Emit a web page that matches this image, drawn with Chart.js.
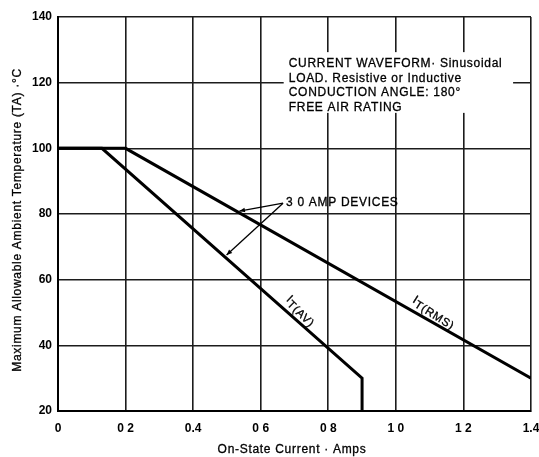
<!DOCTYPE html>
<html>
<head>
<meta charset="utf-8">
<script src="https://cdn.jsdelivr.net/npm/chart.js@4/dist/chart.umd.min.js"></script>
<style>
  html, body { margin: 0; padding: 0; background: #fff; }
  #wrap { width: 539px; height: 457px; }
</style>
</head>
<body>
<div id="wrap"><canvas id="chart" width="539" height="457"></canvas></div>
<script>
// Axis ticks
const xTickValues = [0, 0.2, 0.4, 0.6, 0.8, 1.0, 1.2, 1.4];
const xTickLabels = ['0', '0 2', '0.4', '0 6', '0 8', '1 0', '1 2', '1.4'];
const yTickValues = [20, 40, 60, 80, 100, 120, 140];

// Derating curve for average on-state current
const currentAV = [0, 0.13, 0.9, 0.9];
const tempAV = [100, 100, 30, 20];

// Derating curve for RMS on-state current
const currentRMS = [0, 0.2, 1.4];
const tempRMS = [100, 100, 30];

// Text
const xTitle = 'On-State Current · Amps';
const yTitle = 'Maximum Allowable Ambient Temperature (TA) ·°C';
const noteLines = [
  'CURRENT WAVEFORM· Sinusoidal',
  'LOAD. Resistive or Inductive',
  'CONDUCTION ANGLE: 180°',
  'FREE AIR RATING'
];
const deviceLabel = '3 0 AMP DEVICES';

const FONT = '"Liberation Sans", Arial, Helvetica, sans-serif';
const SPACING = '0.7px';

const toPoints = (xs, ys) => xs.map((x, i) => ({ x, y: ys[i] }));

// Placement of the annotations, in data units
const layoutNotes = {
  box: { x0: 0.668, x1: 1.347, yTop: 129.3, yBottom: 110.8 },
  noteText: { x: 0.683, y: 125.8, lineHeight: 14.6 },
  device: { x: 0.672, y: 83.3, targets: [[0.537, 80.9], [0.499, 67.5]] },
  labelAV: { x: 0.715, y: 50.1, angle: 44 },
  labelRMS: { x: 1.11, y: 49.6, angle: 32 }
};

// Slightly heavier text, like a printed sheet
function heavyText(ctx, text, x, y) {
  ctx.fillText(text, x, y);
  ctx.lineWidth = 0.3;
  ctx.strokeText(text, x, y);
}

function arrow(ctx, x0, y0, x1, y1) {
  ctx.lineWidth = 1.3;
  ctx.beginPath();
  ctx.moveTo(x0, y0);
  ctx.lineTo(x1, y1);
  ctx.stroke();
  const a = Math.atan2(y1 - y0, x1 - x0);
  const len = 6, w = 0.4;
  ctx.beginPath();
  ctx.moveTo(x1, y1);
  ctx.lineTo(x1 - len * Math.cos(a - w), y1 - len * Math.sin(a - w));
  ctx.lineTo(x1 - len * Math.cos(a + w), y1 - len * Math.sin(a + w));
  ctx.closePath();
  ctx.fill();
}

function subscriptLabel(ctx, x, y, angle, main, sub) {
  ctx.save();
  ctx.translate(x, y);
  ctx.rotate(angle * Math.PI / 180);
  ctx.letterSpacing = SPACING;
  ctx.font = '12px ' + FONT;
  const wMain = ctx.measureText(main).width;
  ctx.font = '11.5px ' + FONT;
  const wSub = ctx.measureText(sub).width;
  const total = wMain + wSub;
  ctx.textBaseline = 'alphabetic';
  ctx.textAlign = 'left';
  ctx.font = '12px ' + FONT;
  heavyText(ctx, main, -total / 2, 1);
  ctx.font = '11.5px ' + FONT;
  heavyText(ctx, sub, -total / 2 + wMain, 4);
  ctx.restore();
}

const annotations = {
  id: 'annotations',
  afterDatasetsDraw(chart) {
    const { ctx, scales: { x, y } } = chart;
    const px = v => x.getPixelForValue(v);
    const py = v => y.getPixelForValue(v);
    ctx.save();
    ctx.fillStyle = '#000';
    ctx.strokeStyle = '#000';

    // Note box over the grid
    const b = layoutNotes.box;
    ctx.fillStyle = '#fff';
    ctx.fillRect(px(b.x0), py(b.yTop), px(b.x1) - px(b.x0), py(b.yBottom) - py(b.yTop));
    ctx.fillStyle = '#000';
    ctx.font = '12px ' + FONT;
    ctx.letterSpacing = SPACING;
    ctx.textAlign = 'left';
    ctx.textBaseline = 'middle';
    const n = layoutNotes.noteText;
    noteLines.forEach((line, i) => {
      heavyText(ctx, line, px(n.x), py(n.y) + i * n.lineHeight);
    });

    // Device label with leaders
    const d = layoutNotes.device;
    d.targets.forEach(([tx, ty]) => arrow(ctx, px(d.x) - 2, py(d.y), px(tx), py(ty)));
    ctx.textBaseline = 'middle';
    heavyText(ctx, deviceLabel, px(d.x) + 1, py(d.y));

    // Curve labels
    const la = layoutNotes.labelAV;
    subscriptLabel(ctx, px(la.x), py(la.y), la.angle, 'I', 'T(AV)');
    const lr = layoutNotes.labelRMS;
    subscriptLabel(ctx, px(lr.x), py(lr.y), lr.angle, 'I', 'T(RMS)');

    // Axis titles
    ctx.font = '12px ' + FONT;
    ctx.letterSpacing = SPACING;
    ctx.textAlign = 'center';
    ctx.textBaseline = 'middle';
    heavyText(ctx, xTitle, 292, 450);
    ctx.save();
    ctx.translate(18, 220);
    ctx.rotate(-Math.PI / 2);
    heavyText(ctx, yTitle, 0, 0);
    ctx.restore();

    ctx.restore();
  }
};

const gridStyle = {
  color: '#1c1c1c',
  lineWidth: 1.6,
  drawTicks: false
};

new Chart(document.getElementById('chart'), {
  type: 'scatter',
  data: {
    datasets: [
      {
        label: 'IT(AV)',
        data: toPoints(currentAV, tempAV),
        showLine: true,
        borderColor: '#000',
        borderWidth: 3,
        pointRadius: 0,
        tension: 0,
        borderJoinStyle: 'miter'
      },
      {
        label: 'IT(RMS)',
        data: toPoints(currentRMS, tempRMS),
        showLine: true,
        borderColor: '#000',
        borderWidth: 3,
        pointRadius: 0,
        tension: 0,
        borderJoinStyle: 'miter'
      }
    ]
  },
  options: {
    responsive: false,
    animation: false,
    devicePixelRatio: 1,
    layout: { padding: { top: 17, right: 8, left: 0, bottom: 0 } },
    plugins: {
      legend: { display: false },
      tooltip: { enabled: false }
    },
    scales: {
      x: {
        type: 'linear',
        min: 0,
        max: 1.4,
        afterBuildTicks: s => { s.ticks = xTickValues.map(v => ({ value: v })); },
        afterFit: s => { s.height = 46; s.paddingLeft = 0; s.paddingRight = 0; },
        grid: gridStyle,
        border: { display: true, color: '#000', width: 2 },
        ticks: {
          color: '#000',
          padding: 10,
          maxRotation: 0,
          font: { family: FONT, size: 12, weight: 'bold' },
          callback: v => {
            const i = xTickValues.findIndex(t => Math.abs(t - v) < 1e-6);
            return i >= 0 ? xTickLabels[i] : '';
          }
        }
      },
      y: {
        type: 'linear',
        min: 20,
        max: 140,
        afterBuildTicks: s => { s.ticks = yTickValues.map(v => ({ value: v })); },
        afterFit: s => { s.width = 58; s.paddingTop = 0; s.paddingBottom = 0; },
        grid: gridStyle,
        border: { display: true, color: '#000', width: 2 },
        ticks: {
          color: '#000',
          padding: 6,
          font: { family: FONT, size: 12, weight: 'bold' }
        }
      }
    }
  },
  plugins: [annotations]
});
</script>
</body>
</html>
